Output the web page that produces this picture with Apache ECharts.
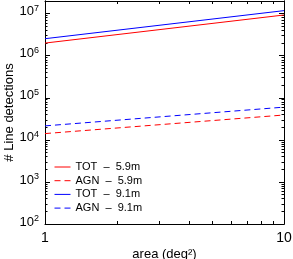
<!DOCTYPE html>
<html>
<head>
<meta charset="utf-8">
<script src="https://cdn.jsdelivr.net/npm/echarts@6/dist/echarts.min.js"></script>
<style>html,body{margin:0;padding:0;background:#fff}#c{width:293px;height:259px}</style>
</head>
<body>
<div id="c"></div>
<script>
var areas = [1, 10];
var totShort = [2.0e6, 9.3e6];
var agnShort = [1.41e4, 3.9e4];
var totLong = [2.54e6, 1.18e7];
var agnLong = [2.15e4, 6.0e4];
var seriesNames = ['TOT  \u2013  5.9m', 'AGN  \u2013  5.9m', 'TOT  \u2013  9.1m', 'AGN  \u2013  9.1m'];
var xMajor = [1, 10];
var xMinor = [2, 3, 4, 5, 6, 7, 8, 9];
var yMajor = [1e2, 1e3, 1e4, 1e5, 1e6, 1e7];
var yMinor = [];
for (var d = 2; d <= 7; d++) { for (var m = 2; m <= 9; m++) { var v = m * Math.pow(10, d); if (v <= 2e7) yMinor.push(v); } }

var FONT = 'Liberation Sans';
function pairs(ys) { return areas.map(function (x, i) { return [x, ys[i]]; }); }

function xAx(pos, showLabel, ticks, len) {
  return {
    type: 'log', logBase: 10, min: 1, max: 10, position: pos, gridIndex: 0,
    axisLine: { show: true, lineStyle: { color: '#000', width: 1 } },
    axisTick: { show: true, inside: true, length: len, customValues: ticks, lineStyle: { color: '#000', width: 1 } },
    axisLabel: showLabel ? { show: true, customValues: xMajor, margin: 7, color: '#000', fontFamily: FONT, fontSize: 14,
      formatter: function (v) { return String(Math.round(v)); } } : { show: false },
    splitLine: { show: false }, minorTick: { show: false }
  };
}
function yAx(pos, showLabel, ticks, len, name) {
  var a = {
    type: 'log', logBase: 10, min: 100, max: 2e7, position: pos, gridIndex: 0,
    axisLine: { show: true, lineStyle: { color: '#000', width: 1 } },
    axisTick: { show: true, inside: true, length: len, customValues: ticks, lineStyle: { color: '#000', width: 1 } },
    axisLabel: showLabel ? { show: true, customValues: yMajor, margin: 6, color: '#000', fontFamily: FONT,
      formatter: function (v) { return '{b|10}{s|' + Math.round(Math.log10(v)) + '}'; },
      rich: { b: { fontSize: 13, fontFamily: FONT, color: '#000', lineHeight: 14, padding: [0, 0, 4, 0] },
              s: { fontSize: 9, fontFamily: FONT, color: '#000', padding: [0, 0, 11, 0] } } } : { show: false },
    splitLine: { show: false }, minorTick: { show: false }
  };
  if (name) {
    a.name = name; a.nameLocation = 'middle'; a.nameGap = 29; a.nameMoveOverlap = false;
    a.nameTextStyle = { fontFamily: FONT, fontSize: 13, color: '#000' };
  }
  return a;
}

var chart = echarts.init(document.getElementById('c'), null, { renderer: 'canvas' });
chart.setOption({
  animation: false,
  backgroundColor: '#fff',
  grid: { left: 45, right: 9, top: 1, bottom: 35, containLabel: false, outerBoundsMode: 'none' },
  xAxis: [
    Object.assign(xAx('bottom', true, xMinor, 3), { name: 'area (deg\u00b2)', nameLocation: 'middle', nameGap: 24,
      nameMoveOverlap: false, nameTextStyle: { fontFamily: FONT, fontSize: 13, color: '#000' } }),
    xAx('top', false, xMinor, 3)
  ],
  yAxis: [
    yAx('left', true, yMajor, 5, '# Line detections'),
    yAx('left', false, yMinor, 2.5),
    yAx('right', false, yMajor, 5),
    yAx('right', false, yMinor, 2.5)
  ],
  legend: {
    orient: 'vertical', left: 54, top: 161.5, padding: 0, itemWidth: 16, itemHeight: 10, itemGap: 2.7,
    itemStyle: { opacity: 0 },
    lineStyle: { width: 1 },
    textStyle: { fontFamily: FONT, fontSize: 11, lineHeight: 10, color: '#000' },
    data: seriesNames
  },
  series: [
    { name: seriesNames[0], type: 'line', data: pairs(totShort), symbol: 'none', lineStyle: { color: '#ff0000', width: 1 }, itemStyle: { color: '#ff0000' } },
    { name: seriesNames[1], type: 'line', data: pairs(agnShort), symbol: 'none', lineStyle: { color: '#ff0000', width: 1, type: [6, 4] }, itemStyle: { color: '#ff0000' } },
    { name: seriesNames[2], type: 'line', data: pairs(totLong), symbol: 'none', lineStyle: { color: '#0000ff', width: 1 }, itemStyle: { color: '#0000ff' } },
    { name: seriesNames[3], type: 'line', data: pairs(agnLong), symbol: 'none', lineStyle: { color: '#0000ff', width: 1, type: [6, 4] }, itemStyle: { color: '#0000ff' } }
  ]
});
</script>
</body>
</html>
